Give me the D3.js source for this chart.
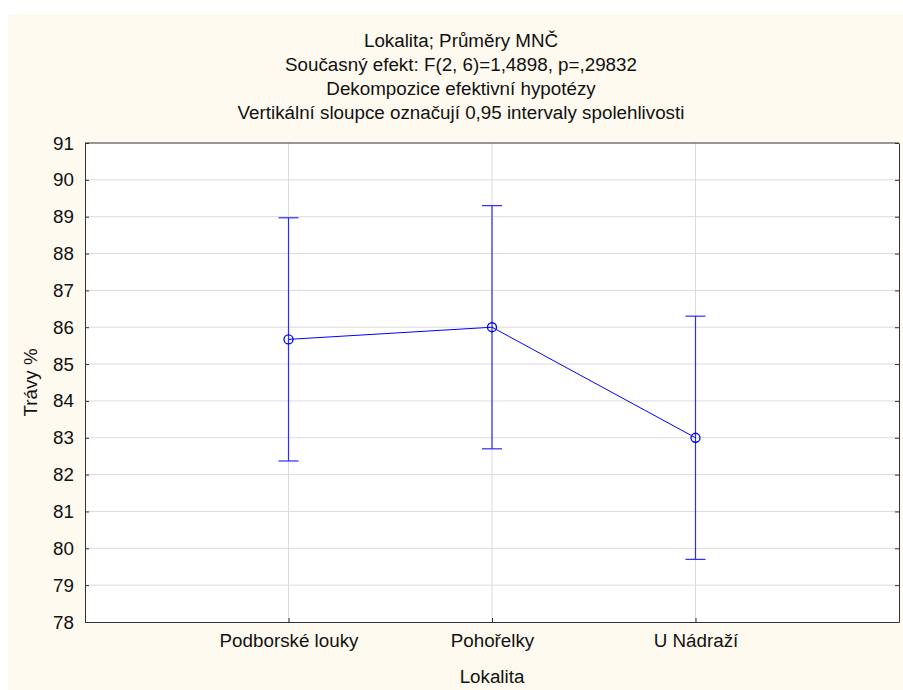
<!DOCTYPE html>
<html>
<head>
<meta charset="utf-8">
<script src="https://cdn.jsdelivr.net/npm/d3@7/dist/d3.min.js"></script>
<style>
  body { margin: 0; background: #ffffff; }
  svg { display: block; }
  text { font-family: "Liberation Sans", Arial, sans-serif; fill: #111; }
</style>
</head>
<body>
<svg id="chart" width="903" height="690"></svg>
<script>
const categories = ["Podborské louky", "Pohořelky", "U Nádraží"];
const means = [85.67, 86.0, 83.0];
const lower = [82.37, 82.70, 79.70];
const upper = [88.97, 89.30, 86.30];
const yTicks = [78, 79, 80, 81, 82, 83, 84, 85, 86, 87, 88, 89, 90, 91];
const titleLines = [
  "Lokalita; Průměry MNČ",
  "Současný efekt: F(2, 6)=1,4898, p=,29832",
  "Dekompozice efektivní hypotézy",
  "Vertikální sloupce označují 0,95 intervaly spolehlivosti"
];
const xTitle = "Lokalita";
const yTitle = "Trávy %";

const svg = d3.select("#chart");
const W = 903, H = 690;
const m = { left: 85, right: 4, top: 143, bottom: 68 };
const pw = W - m.left - m.right, ph = H - m.top - m.bottom;
const FS = "18.8px";

svg.append("rect").attr("x", 8).attr("y", 14).attr("width", W - 8).attr("height", H - 14).attr("fill", "#fefaef");

const g = svg.append("g").attr("transform", `translate(${m.left},${m.top})`);
g.append("rect").attr("width", pw).attr("height", ph).attr("fill", "#ffffff");

const x = d3.scalePoint().domain(categories).range([0, pw]).padding(1);
const y = d3.scaleLinear().domain([78, 91]).range([ph, 0]);

// grid
g.append("g").selectAll("line").data(yTicks.slice(1, -1)).join("line")
  .attr("x1", 0).attr("x2", pw).attr("y1", d => y(d)).attr("y2", d => y(d))
  .attr("stroke", "#dcdcdc").attr("stroke-width", 1);
g.append("g").selectAll("line").data(categories).join("line")
  .attr("y1", 0).attr("y2", ph).attr("x1", d => x(d)).attr("x2", d => x(d))
  .attr("stroke", "#dcdcdc").attr("stroke-width", 1);

// axes
const yAxisL = d3.axisLeft(y).tickValues(yTicks).tickSizeInner(-4).tickSizeOuter(0).tickPadding(11);
const gy = g.append("g").call(yAxisL);
gy.selectAll("text").style("font-size", FS).attr("fill", "#111");
gy.selectAll("line, path").attr("stroke", "#333");

const yAxisR = d3.axisRight(y).tickValues(yTicks).tickSizeInner(-4).tickSizeOuter(0).tickFormat("");
const gyr = g.append("g").attr("transform", `translate(${pw},0)`).call(yAxisR);
gyr.selectAll("line, path").attr("stroke", "#333");

const xAxis = d3.axisBottom(x).tickSizeInner(-4).tickSizeOuter(0).tickPadding(12);
const gx = g.append("g").attr("transform", `translate(0,${ph})`).call(xAxis);
gx.selectAll("text").style("font-size", FS).attr("fill", "#111");
gx.selectAll("line, path").attr("stroke", "#333");

g.append("line").attr("x1", 0).attr("x2", pw).attr("y1", 0).attr("y2", 0).attr("stroke", "#333");

// error bars
const eb = g.append("g").attr("stroke", "#2b2bff").attr("stroke-width", 1.2);
categories.forEach((c, i) => {
  eb.append("line").attr("x1", x(c)).attr("x2", x(c)).attr("y1", y(lower[i])).attr("y2", y(upper[i]));
  eb.append("line").attr("x1", x(c) - 10).attr("x2", x(c) + 10).attr("y1", y(lower[i])).attr("y2", y(lower[i]));
  eb.append("line").attr("x1", x(c) - 10).attr("x2", x(c) + 10).attr("y1", y(upper[i])).attr("y2", y(upper[i]));
});

// mean line
const line = d3.line().x((d, i) => x(categories[i])).y(d => y(d));
g.append("path").attr("d", line(means)).attr("fill", "none").attr("stroke", "#0000ff").attr("stroke-width", 1);
g.append("g").selectAll("circle").data(means).join("circle")
  .attr("cx", (d, i) => x(categories[i])).attr("cy", d => y(d)).attr("r", 4.5)
  .attr("fill", "none").attr("stroke", "#0000ff").attr("stroke-width", 1.3);

// titles
svg.append("g").selectAll("text").data(titleLines).join("text")
  .attr("x", 461).attr("y", (d, i) => 47 + i * 24).attr("text-anchor", "middle")
  .style("font-size", FS).text(d => d);

svg.append("text").attr("x", 492).attr("y", 683).attr("text-anchor", "middle")
  .style("font-size", FS).text(xTitle);
svg.append("text").attr("transform", `translate(37,${m.top + ph / 2}) rotate(-90)`).attr("text-anchor", "middle")
  .style("font-size", FS).text(yTitle);
</script>
</body>
</html>
